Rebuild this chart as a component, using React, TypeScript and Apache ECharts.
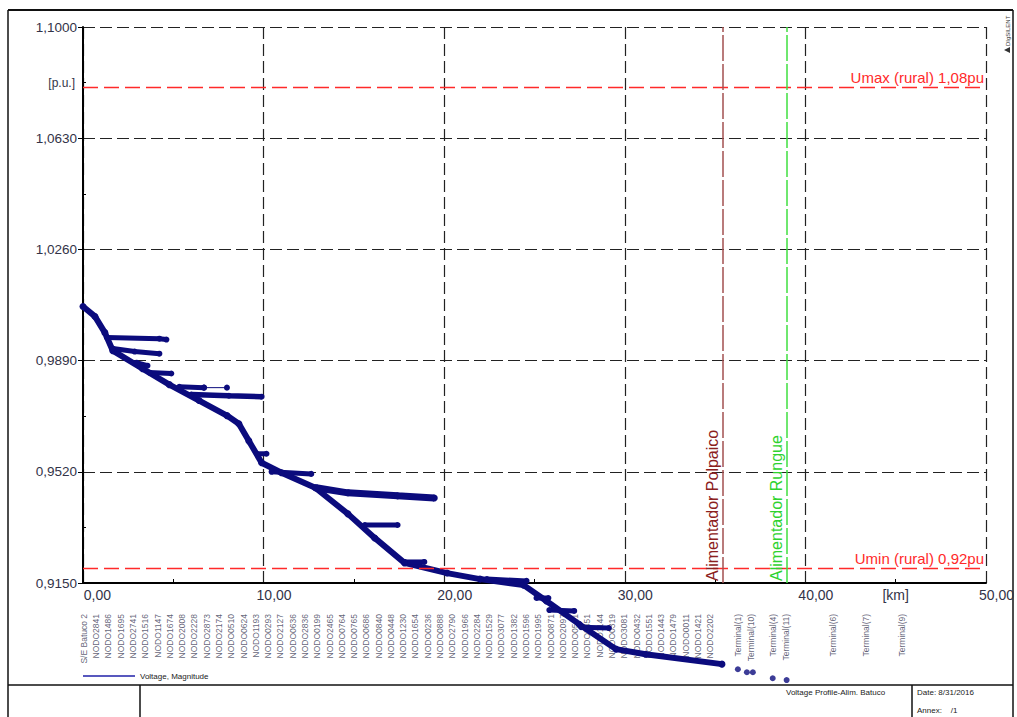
import React, { useEffect, useRef } from 'react';
import * as echarts from 'echarts';

// ---- axis ticks ----
const yMin = 0.915;
const yMax = 1.1;
const yStep = 0.037;
const yMinorTicks = [0.9335, 0.9705, 1.0075, 1.0445, 1.0815];
const xMin = 0;
const xMax = 50;
const xStep = 10;
const xMinorTicks = [5, 15, 25, 35, 45];

// ---- voltage profile (km, p.u.) ----
const trunk: [number, number][] = [
  [0, 1.007], [0.66, 1.0037], [1.21, 0.9983], [1.65, 0.9923], [3.3, 0.9863],
  [4.78, 0.981], [6.43, 0.9757], [7.97, 0.9707], [8.63, 0.968], [9.18, 0.9623],
  [9.89, 0.955], [10.99, 0.9517], [12.86, 0.9467], [14.67, 0.938], [16.15, 0.93],
  [17.8, 0.9217], [20.16, 0.9183], [21.98, 0.9163], [24.4, 0.9143], [25.66, 0.909],
  [27.47, 0.9013], [29.51, 0.893], [31.15, 0.8913], [35.38, 0.888],
];
const branchA: [number, number][] = [[1.32, 0.9967], [4.23, 0.9963], [4.62, 0.996]];
const branchB: [number, number][] = [[1.65, 0.993], [2.86, 0.992], [4.23, 0.9913]];
const branchC: [number, number][] = [[2.97, 0.9883], [3.57, 0.9873]];
const branchD: [number, number][] = [[3.68, 0.985], [4.89, 0.9847]];
const branchE1: [number, number][] = [[5.33, 0.9803], [6.7, 0.98]];
const branchE2: [number, number][] = [[6.7, 0.98], [7.97, 0.98]];
const branchF: [number, number][] = [[5.99, 0.9777], [8.08, 0.9773], [9.89, 0.977]];
const branchG: [number, number][] = [[9.62, 0.958], [10.16, 0.958]];
const branchH: [number, number][] = [[10.44, 0.952], [12.64, 0.9513]];
const branchI: [number, number][] = [[12.91, 0.9467], [14.67, 0.945], [17.42, 0.944], [19.45, 0.9433]];
const branchJ: [number, number][] = [[15.6, 0.9343], [17.42, 0.9343]];
const branchK: [number, number][] = [[17.8, 0.922], [18.9, 0.922]];
const branchL: [number, number][] = [[22.36, 0.9163], [24.56, 0.9157]];
const branchM: [number, number][] = [[25.11, 0.91], [25.77, 0.91]];
const branchN: [number, number][] = [[25.82, 0.906], [27.2, 0.9057]];
const branchO: [number, number][] = [[27.58, 0.9003], [29.12, 0.9]];
const terminalDots: [number, number][] = [[36.26, 0.8863], [36.76, 0.8853], [37.09, 0.8853], [38.19, 0.8833], [38.96, 0.8827]];

// ---- reference lines ----
const uMax = 1.08;
const uMin = 0.92;
const polpaicoKm = 35.4;
const rungueKm = 38.95;

// ---- node labels ----
const nodeNames = [
  'S/E Batuco 2', 'NODO2841', 'NODO1486', 'NODO1695', 'NODO2741', 'NODO1516', 'NODO1147', 'NODO1674',
  'NODO2008', 'NODO2228', 'NODO2873', 'NODO2174', 'NODO0510', 'NODO0624', 'NODO1193', 'NODO0293',
  'NODO2127', 'NODO0636', 'NODO2836', 'NODO0199', 'NODO2465', 'NODO0764', 'NODO0765', 'NODO0686',
  'NODO0840', 'NODO0448', 'NODO1230', 'NODO1654', 'NODO0236', 'NODO0888', 'NODO2790', 'NODO1966',
  'NODO2284', 'NODO1529', 'NODO3077', 'NODO1382', 'NODO1596', 'NODO1995', 'NODO0871', 'NODO2097',
  'NODO0521', 'NODO2451', 'NODO1144', 'NODO0319', 'NODO3081', 'NODO0432', 'NODO1551', 'NODO1443',
  'NODO1479', 'NODO0011', 'NODO1421', 'NODO2202',
];
const terminalNames = ['Terminal(1)', 'Terminal(10)', 'Terminal(4)', 'Terminal(11)', 'Terminal(6)', 'Terminal(7)', 'Terminal(9)'];
const terminalKm = [36.26, 36.98, 38.19, 38.9, 41.54, 43.35, 45.33];

const NODE_LABEL_START = 0.05;
const NODE_LABEL_STEP = 0.68;
const LABEL_PU = 0.9047;

const NAVY = '#0b0b7d';
const FONT = '"Liberation Sans", Arial, sans-serif';
const LABEL_COLOR = '#333348';

const fmt4 = (v: number) => v.toFixed(4).replace('.', ',');
const fmt2 = (v: number) => v.toFixed(2).replace('.', ',');

function lineSeries(name: string, data: [number, number][], width = 5, symbolSize = 6) {
  return {
    type: 'line',
    name,
    data,
    clip: false,
    symbol: 'circle',
    symbolSize,
    showSymbol: true,
    lineStyle: { color: NAVY, width },
    itemStyle: { color: NAVY },
    z: 3,
  };
}

export default function App() {
  const ref = useRef<HTMLDivElement>(null);
  useEffect(() => {
    if (!ref.current) return;
    const chart = echarts.init(ref.current, undefined, { renderer: 'svg' });

    const labelData = [
      ...nodeNames.map((n, i) => ({ name: n, value: [NODE_LABEL_START + i * NODE_LABEL_STEP, LABEL_PU] })),
      ...terminalNames.map((n, i) => ({ name: n, value: [terminalKm[i], LABEL_PU] })),
    ];

    const option: any = {
      animation: false,
      backgroundColor: '#fff',
      textStyle: { fontFamily: FONT },
      grid: { left: 83, top: 27, width: 910, height: 556, containLabel: false },
      legend: {
        data: [{ name: 'Voltage, Magnitude', icon: 'rect' }],
        left: 83,
        top: 672,
        padding: 0,
        itemWidth: 52,
        itemHeight: 1.5,
        itemGap: 5,
        selectedMode: false,
        itemStyle: { color: '#2020a8' },
        textStyle: { fontSize: 8, color: '#222', fontFamily: FONT },
      },
      xAxis: [
        {
          type: 'value', min: xMin, max: xMax, interval: xStep,
          axisLine: { show: true, onZero: false, lineStyle: { color: '#000', width: 2 } },
          axisTick: { show: false },
          splitLine: { show: true, lineStyle: { color: '#222', type: [12, 5], width: 1.2 } },
          axisLabel: {
            formatter: fmt2, align: 'right', padding: [0, -28, 0, 0], margin: 5,
            fontSize: 14, color: LABEL_COLOR, fontFamily: FONT, showMaxLabel: true,
          },
        },
        {
          type: 'value', min: xMin, max: xMax, position: 'bottom',
          axisLine: { show: false },
          axisTick: { show: true, inside: true, length: 4, customValues: xMinorTicks, lineStyle: { color: '#000' } },
          splitLine: { show: false },
          axisLabel: {
            customValues: [45], formatter: () => '[km]', margin: 5,
            fontSize: 14, color: LABEL_COLOR, fontFamily: FONT,
          },
        },
      ],
      yAxis: [
        {
          type: 'value', min: yMin, max: yMax, interval: yStep,
          axisLine: { show: true, onZero: false, lineStyle: { color: '#000', width: 2 } },
          axisTick: { show: true, length: 5, lineStyle: { color: '#000' } },
          splitLine: { show: true, lineStyle: { color: '#222', type: [12, 5], width: 1.2 } },
          axisLabel: { formatter: fmt4, margin: 6, fontSize: 13.5, color: LABEL_COLOR, fontFamily: FONT, showMaxLabel: true },
        },
        {
          type: 'value', min: yMin, max: yMax, position: 'left',
          axisLine: { show: false },
          axisTick: { show: true, inside: true, length: 3, customValues: yMinorTicks, lineStyle: { color: '#000' } },
          splitLine: { show: false },
          axisLabel: { customValues: [1.0815], formatter: () => '[p.u.]', margin: 8, fontSize: 12, color: LABEL_COLOR, fontFamily: FONT },
        },
      ],
      series: [
        {
          ...lineSeries('Voltage, Magnitude', trunk, 6, 7),
          markLine: {
            silent: true,
            symbol: ['none', 'none'],
            animation: false,
            data: [
              {
                yAxis: uMax,
                lineStyle: { color: '#ff2a2a', type: [15, 6], width: 1.3 },
                label: { show: true, position: 'insideEndTop', formatter: 'Umax (rural) 1,08pu', color: '#ff2a2a', fontSize: 15, fontFamily: FONT, distance: 2 },
              },
              {
                yAxis: uMin,
                lineStyle: { color: '#ff2a2a', type: [15, 6], width: 1.3 },
                label: { show: true, position: 'insideEndTop', formatter: 'Umin (rural) 0,92pu', color: '#ff2a2a', fontSize: 15, fontFamily: FONT, distance: 2 },
              },
              {
                xAxis: polpaicoKm,
                lineStyle: { color: '#a35050', type: [26, 3], width: 1.5 },
                label: { show: true, position: 'insideStartTop', formatter: 'Alimentador Polpaico', color: '#8b2020', fontSize: 16, fontFamily: FONT, distance: 2 },
              },
              {
                xAxis: rungueKm,
                lineStyle: { color: '#40e040', type: [26, 3], width: 1.5 },
                label: { show: true, position: 'insideStartTop', formatter: 'Alimentador Rungue', color: '#2ed22e', fontSize: 16, fontFamily: FONT, distance: 2 },
              },
            ],
          },
        },
        lineSeries('bA', branchA),
        lineSeries('bB', branchB),
        lineSeries('bC', branchC),
        lineSeries('bD', branchD),
        lineSeries('bE1', branchE1, 5, 6),
        lineSeries('bE2', branchE2, 1, 6),
        lineSeries('bF', branchF, 5.5, 6),
        lineSeries('bG', branchG),
        lineSeries('bH', branchH),
        lineSeries('bI', branchI, 7, 7),
        lineSeries('bJ', branchJ),
        lineSeries('bK', branchK),
        lineSeries('bL', branchL),
        lineSeries('bM', branchM),
        lineSeries('bN', branchN),
        lineSeries('bO', branchO),
        {
          type: 'scatter', name: 'terminals', data: terminalDots, clip: false,
          symbol: 'circle', symbolSize: 6, itemStyle: { color: NAVY }, z: 3,
        },
        {
          type: 'scatter', name: 'labels', data: labelData, clip: false, silent: true,
          symbolSize: 0.1, itemStyle: { color: 'transparent' },
          label: {
            show: true, formatter: '{b}', position: 'inside', rotate: 90,
            align: 'right', verticalAlign: 'middle', fontSize: 8.5, color: '#3a3a55', fontFamily: FONT,
          },
          z: 2,
        },
      ],
      graphic: [
        { type: 'line', shape: { x1: 8, y1: 10, x2: 1013, y2: 10 }, style: { stroke: '#111', lineWidth: 2 } },
        { type: 'line', shape: { x1: 8, y1: 10, x2: 8, y2: 717 }, style: { stroke: '#111', lineWidth: 1.5 } },
        { type: 'line', shape: { x1: 1013, y1: 10, x2: 1013, y2: 717 }, style: { stroke: '#111', lineWidth: 1.5 } },
        { type: 'line', shape: { x1: 8, y1: 685, x2: 1013, y2: 685 }, style: { stroke: '#111', lineWidth: 1.5 } },
        { type: 'line', shape: { x1: 140, y1: 685, x2: 140, y2: 717 }, style: { stroke: '#111', lineWidth: 1.5 } },
        { type: 'line', shape: { x1: 912, y1: 685, x2: 912, y2: 717 }, style: { stroke: '#111', lineWidth: 1.5 } },
        { type: 'text', x: 786, y: 688, style: { text: 'Voltage Profile-Alim. Batuco', fontSize: 8, fill: '#222', fontFamily: FONT } },
        { type: 'text', x: 917, y: 688, style: { text: 'Date: 8/31/2016', fontSize: 8, fill: '#222', fontFamily: FONT } },
        { type: 'text', x: 917, y: 706, style: { text: 'Annex:    /1', fontSize: 8, fill: '#222', fontFamily: FONT } },
        { type: 'text', x: 1005, y: 46, rotation: Math.PI / 2, style: { text: 'DIgSILENT', fontSize: 6, fill: '#333', fontFamily: FONT } },
        { type: 'polygon', shape: { points: [[1004, 50], [1010, 47], [1010, 53]] }, style: { fill: '#333' } },
      ],
    };

    chart.setOption(option);
    return () => chart.dispose();
  }, []);

  return (
    <div
      ref={ref}
      style={{ position: 'fixed', left: 0, top: 0, width: 1017, height: 717, background: '#fff' }}
    />
  );
}
